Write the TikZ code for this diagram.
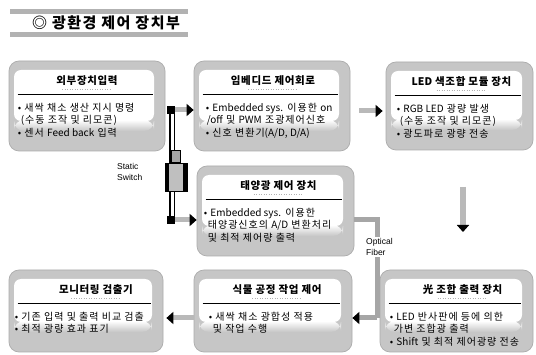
\documentclass[tikz,border=0pt]{standalone}
\usepackage{fontspec}
\setmainfont{Liberation Sans}
\newfontfamily\kr{Noto Sans CJK KR}
\newfontfamily\krsp[LetterSpace=10]{Noto Sans CJK KR}
\newfontfamily\krti[LetterSpace=6]{Noto Sans CJK KR}
\newcommand\lt[1]{{\kr #1}}
\usetikzlibrary{arrows.meta,calc}
\tikzset{
  panel/.style={shape=rectangle, rounded corners=10pt, fill=gray!45, draw=gray!65, line width=0.7pt, inner sep=0pt,
    path picture={
      \fill[white, rounded corners=7pt] ([shift={(5pt,-9pt)}]path picture bounding box.north west) rectangle ([shift={(-11pt,30pt)}]path picture bounding box.south east);
      \shade[top color=white, bottom color=gray!45] ([shift={(5pt,31pt)}]path picture bounding box.south west) rectangle ([shift={(-11pt,20pt)}]path picture bounding box.south east);
    }},
  ptitle/.style={font=\krti\bfseries\fontsize{10.5}{12}\selectfont, inner sep=0pt},
  pbody/.style={font=\krsp\fontsize{10}{12.8}\selectfont, anchor=north west, align=left, inner sep=0pt},
  sepline/.style={line width=0.9pt, black},
  subline/.style={gray!60, line width=0.8pt, dash pattern=on 1pt off 1.5pt},
  flow/.style={line width=5pt, draw=gray!55, -{Triangle[length=7pt,width=12pt,black]}},
  lbl/.style={font=\fontsize{8.5}{11}\selectfont, align=left, inner sep=1pt},
}
% #1 name, #2 x1, #3 y1, #4 x2, #5 y2, #6 title, #7 body, #8 body indent, #9 title shift
\newcommand\kpanel[9]{%
  \node[panel, minimum width={(#4-#2)*1pt}, minimum height={(#5-#3)*1pt}] (#1) at ({(#2+#4)/2},{(#3+#5)/2}) {};
  \node[ptitle] (#1t) at ($(#1.north)+(#9pt,-20pt)$) {#6};
  \draw[subline] ($(#1t.south)+(-25pt,-4pt)$) -- ($(#1t.south)+(25pt,-4pt)$);
  \draw[sepline] ($(#1.north west)+(9pt,-34pt)$) -- ($(#1.north east)+(-12pt,-34pt)$);
  \node[pbody] (#1b) at ($(#1.north west)+(#8pt,-42pt)$) {#7};
}
\begin{document}
\begin{tikzpicture}[x=1pt,y=-1pt]
\useasboundingbox (0,0) rectangle (536,355);
\fill[white] (0,0) rectangle (536,355);
% banner
\fill[gray!60] (10,9) rectangle (188,14);
\fill[gray!60] (10,32) rectangle (188,37);
\node[font=\krsp\bfseries\fontsize{15}{17}\selectfont, inner sep=0pt] (banner) at (106,23) {◎ 광환경 제어 장치부};

\kpanel{b1}{9}{61}{165}{151}{외부장치입력}{• 새싹 채소 생산 지시 명령\\\hspace*{3pt}(수동 조작 및 리모콘)\\• 센서 \lt{Feed back} 입력}{9}{0}
\kpanel{b2}{194}{61}{350}{151}{임베디드 제어회로}{• \lt{Embedded sys.} 이용한 \lt{on}\\\hspace*{1pt}\lt{/off} 및 \lt{PWM} 조광제어신호\\• 신호 변환기\lt{(A/D, D/A)}}{12}{1}
\kpanel{b3}{386}{62}{533}{150}{\lt{LED} 색조합 모듈 장치}{• \lt{RGB LED} 광량 발생\\\hspace*{3pt}(수동 조작 및 리모콘)\\• 광도파로 광량 전송}{11}{2}
\kpanel{b4}{197}{166}{354}{256}{태양광 제어 장치}{• \lt{Embedded sys.} 이용한\\\hspace*{4pt}태양광신호의 \lt{A/D} 변환처리\\\hspace*{4pt}및 최적 제어량 출력}{7}{3}
\kpanel{b5}{380}{270}{533}{352}{光 조합 출력 장치}{• \lt{LED} 반사판에 등에 의한\\\hspace*{4pt}가변 조합광 출력\\• \lt{Shift} 및 최적 제어광량 전송}{10}{6}
\kpanel{b6}{194}{270}{352}{352}{식물 공정 작업 제어}{• 새싹 채소 광합성 적용\\\hspace*{4pt}및 작업 수행}{15}{4}
\kpanel{b7}{9}{270}{163}{352}{모니터링 검출기}{• 기존 입력 및 출력 비교 검출\\• 최적 광량 효과 표기}{6}{10}

% static switch
\coordinate (swtop) at (172,110);
\coordinate (swbot) at (172,220);
\draw[line width=1.2pt, double=white, double distance=3pt] (swtop) -- (swbot);
\draw[flow] (swtop) -- (swtop -| b2.west);
\draw[flow] (swbot) -- (swbot -| b4.west);
\fill[black] (167,106) rectangle (175,114);
\fill[black] (167,216) rectangle (175,224);
\node[draw=black, fill=gray!50, line width=0.8pt, minimum width=22pt, minimum height=28pt, inner sep=0pt] (sw) at (176,177) {};
\fill[black] (sw.north west) rectangle ($(sw.south west)+(4pt,0)$);
\fill[black] ($(sw.north east)+(-4pt,0)$) rectangle (sw.south east);
\node[draw=black, fill=gray!70, minimum width=9pt, minimum height=12pt, inner sep=0pt, anchor=south] (lever) at (sw.north) {};
\node[lbl, anchor=west] (swl) at (116,172) {Static\\Switch};

% b2 -> b3
\draw[flow] ($(b2.east)+(9pt,-5pt)$) -- ($(b3.west)+(-3pt,-5pt)$);
% b3 -> b5 (down)
\coordinate (dtop) at (463,187);
\coordinate (dbot) at (463,232);
\draw[flow, line width=6pt] (dtop) -- (dbot);

% optical fiber b4 -> b6
\coordinate (fa) at (377,220);
\coordinate (fb) at (377,318);
\draw[line width=5pt, gray!70] (fa -| b4.east) -- (fa) -- (fb);
\node[lbl, anchor=west, fill=white] (fiber) at (365,247) {Optical\\Fiber};
\draw[flow, draw=gray!70] (fb) -- (fb -| b6.east);

% b6 -> b7
\draw[flow] ($(b6.west)+(0,-7pt)$) -- ($(b7.east)+(3pt,-7pt)$);
\end{tikzpicture}
\end{document}
